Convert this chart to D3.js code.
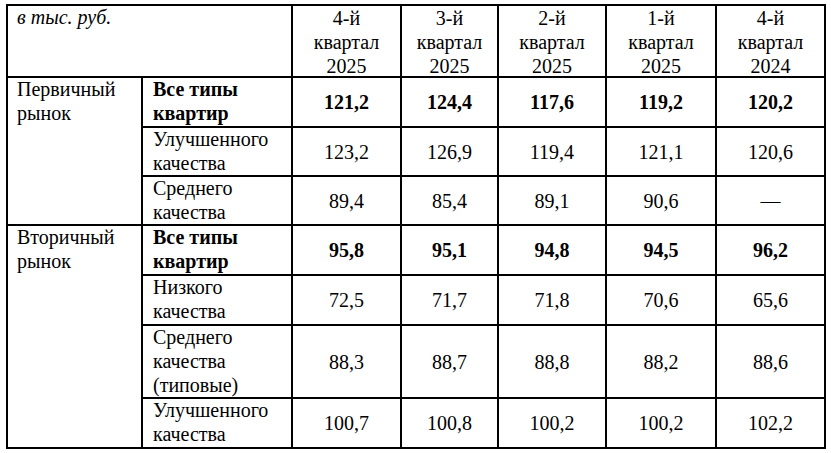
<!DOCTYPE html>
<html><head><meta charset="utf-8">
<script src="https://cdn.jsdelivr.net/npm/d3@7"></script>
<style>
html,body{margin:0;padding:0;background:#fff;}
svg{display:block;}
</style></head>
<body>
<svg id="c" width="831" height="453"></svg>
<script>
// ---- data ----
const unitLabel = "в тыс. руб.";
const periods = [["4-й","квартал","2025"],["3-й","квартал","2025"],["2-й","квартал","2025"],["1-й","квартал","2025"],["4-й","квартал","2024"]];
const markets = [["Первичный","рынок"],["Вторичный","рынок"]];
const rowLabels = [
  ["Все типы","квартир"],
  ["Улучшенного","качества"],
  ["Среднего","качества"],
  ["Все типы","квартир"],
  ["Низкого","качества"],
  ["Среднего","качества","(типовые)"],
  ["Улучшенного","качества"]
];
const rowBold = [true,false,false,true,false,false,false];
const values = [
  ["121,2","124,4","117,6","119,2","120,2"],
  ["123,2","126,9","119,4","121,1","120,6"],
  ["89,4","85,4","89,1","90,6","—"],
  ["95,8","95,1","94,8","94,5","96,2"],
  ["72,5","71,7","71,8","70,6","65,6"],
  ["88,3","88,7","88,8","88,2","88,6"],
  ["100,7","100,8","100,2","100,2","102,2"]
];

// ---- layout ----
const colEdges = [7,142,292,401,498,606,716,825];
const rowEdges = [5,77,127,176,225,275,325,398,448];
const lh = 24;
const FONT = "'Liberation Serif'";

const svg = d3.select("#c");
const x = d3.scaleOrdinal().domain(d3.range(colEdges.length)).range(colEdges);
const y = d3.scaleOrdinal().domain(d3.range(rowEdges.length)).range(rowEdges);

const g = svg.append("g");
const lines = g.append("g").attr("stroke","#000").attr("stroke-width",1.2).attr("shape-rendering","crispEdges");

function txt(sel){ return sel.append("text").style("font-family",FONT).style("font-size","20px").style("fill","#000"); }

lines.append("rect").attr("x",x(0)).attr("y",y(0)).attr("width",x(7)-x(0)).attr("height",y(8)-y(0)).attr("fill","none");
lines.append("line").attr("x1",x(0)).attr("x2",x(7)).attr("y1",y(1)).attr("y2",y(1));
d3.range(2,8).forEach(r=>{
  const full = (r===4);
  lines.append("line").attr("x1",full?x(0):x(1)).attr("x2",x(7)).attr("y1",y(r)).attr("y2",y(r));
});
lines.append("line").attr("x1",x(1)).attr("x2",x(1)).attr("y1",y(1)).attr("y2",y(8));
d3.range(2,7).forEach(c=>{
  lines.append("line").attr("x1",x(c)).attr("x2",x(c)).attr("y1",y(0)).attr("y2",y(8));
});

txt(g).attr("x",x(0)+10).attr("y",y(0)+19).style("font-style","italic").text(unitLabel);

periods.forEach((p,i)=>{
  const cx = (x(i+2)+x(i+3))/2;
  const t = txt(g).attr("text-anchor","middle");
  p.forEach((s,j)=>t.append("tspan").attr("x",cx).attr("y",y(0)+20+j*lh).text(s));
});

markets.forEach((m,i)=>{
  const top = i===0?y(1):y(4);
  const t = txt(g);
  m.forEach((s,j)=>t.append("tspan").attr("x",x(0)+10).attr("y",top+19+j*lh).text(s));
});

rowLabels.forEach((lab,r)=>{
  const top = y(r+1), bot = y(r+2);
  const t = txt(g).style("font-weight",rowBold[r]?"bold":"normal");
  lab.forEach((s,j)=>t.append("tspan").attr("x",x(1)+11).attr("y",top+19+j*lh).text(s));
  values[r].forEach((v,c)=>{
    txt(g).attr("text-anchor","middle")
      .style("font-weight",rowBold[r]?"bold":"normal")
      .attr("x",(x(c+2)+x(c+3))/2).attr("y",(top+bot)/2+7).text(v);
  });
});
</script>
</body></html>
